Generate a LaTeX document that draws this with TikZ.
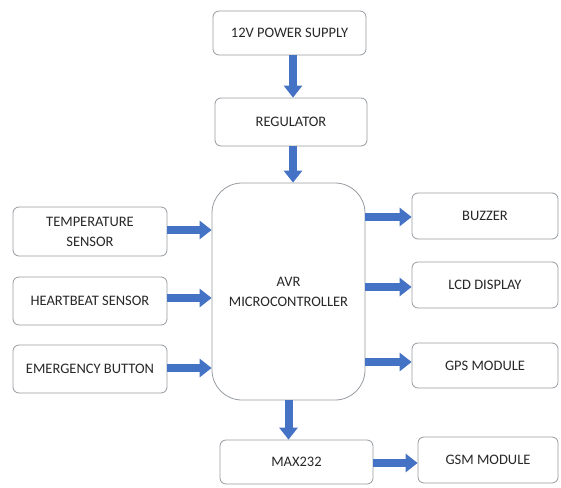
\documentclass[tikz,border=0pt]{standalone}
\usepackage{fontspec}
\setmainfont{Carlito}
\usetikzlibrary{arrows.meta}
\definecolor{arrblue}{RGB}{68,114,196}
\definecolor{boxline}{RGB}{150,155,160}
\definecolor{txt}{RGB}{40,40,40}
\tikzset{
  blk/.style={draw=boxline, line width=0.8pt, rounded corners=6pt, fill=white,
    align=center, inner sep=2pt, text=txt, font=\fontsize{14.5}{20}\selectfont},
  arr/.style={draw=arrblue, line width=8pt, -{Triangle[width=18pt,length=12pt]}}
}
\begin{document}
\begin{tikzpicture}[x=1pt,y=-1pt]
\useasboundingbox (0,0) rectangle (561,487);
\node[blk, minimum width=153pt, minimum height=44pt] (power) at (289.5,33) {12V POWER SUPPLY};
\node[blk, minimum width=152pt, minimum height=48pt] (reg) at (291,122) {REGULATOR};
\node[blk, minimum width=153pt, minimum height=217pt, rounded corners=30pt] (mcu) at (288.5,291.5) {AVR\\MICROCONTROLLER};
\node[blk, minimum width=154pt, minimum height=49pt] (temp) at (90,231.5) {TEMPERATURE\\SENSOR};
\node[blk, minimum width=154pt, minimum height=48pt] (heart) at (90,301) {HEARTBEAT SENSOR};
\node[blk, minimum width=154pt, minimum height=48pt] (emerg) at (90,369) {EMERGENCY BUTTON};
\node[blk, minimum width=146pt, minimum height=46pt] (buzzer) at (485,216) {BUZZER};
\node[blk, minimum width=146pt, minimum height=46pt] (lcd) at (485,285) {LCD DISPLAY};
\node[blk, minimum width=146pt, minimum height=45pt] (gps) at (485,365.5) {GPS MODULE};
\node[blk, minimum width=153pt, minimum height=44pt] (max) at (296.5,462) {MAX232};
\node[blk, minimum width=140pt, minimum height=46pt] (gsm) at (488,460) {GSM MODULE};
\draw[arr] ([xshift=3.5pt]power.south) -- ([xshift=3.5pt]power.south |- reg.north);
\draw[arr] ([xshift=2pt]reg.south) -- ([xshift=2pt]reg.south |- mcu.north);
\draw[arr] ([yshift=1.5pt]temp.east) -- ([yshift=1.5pt]temp.east -| mcu.west);
\draw[arr] ([yshift=3pt]heart.east) -- ([yshift=3pt]heart.east -| mcu.west);
\draw[arr] ([yshift=1pt]emerg.east) -- ([yshift=1pt]emerg.east -| mcu.west);
\draw[arr] ([yshift=-1pt]buzzer.west -| mcu.east) -- ([yshift=-1pt]buzzer.west);
\draw[arr] ([yshift=-2pt]lcd.west -| mcu.east) -- ([yshift=-2pt]lcd.west);
\draw[arr] ([yshift=3.5pt]gps.west -| mcu.east) -- ([yshift=3.5pt]gps.west);
\draw[arr] (mcu.south) -- (mcu.south |- max.north);
\draw[arr] ([yshift=-1pt]max.east) -- ([yshift=-1pt]max.east -| gsm.west);
\end{tikzpicture}
\end{document}
